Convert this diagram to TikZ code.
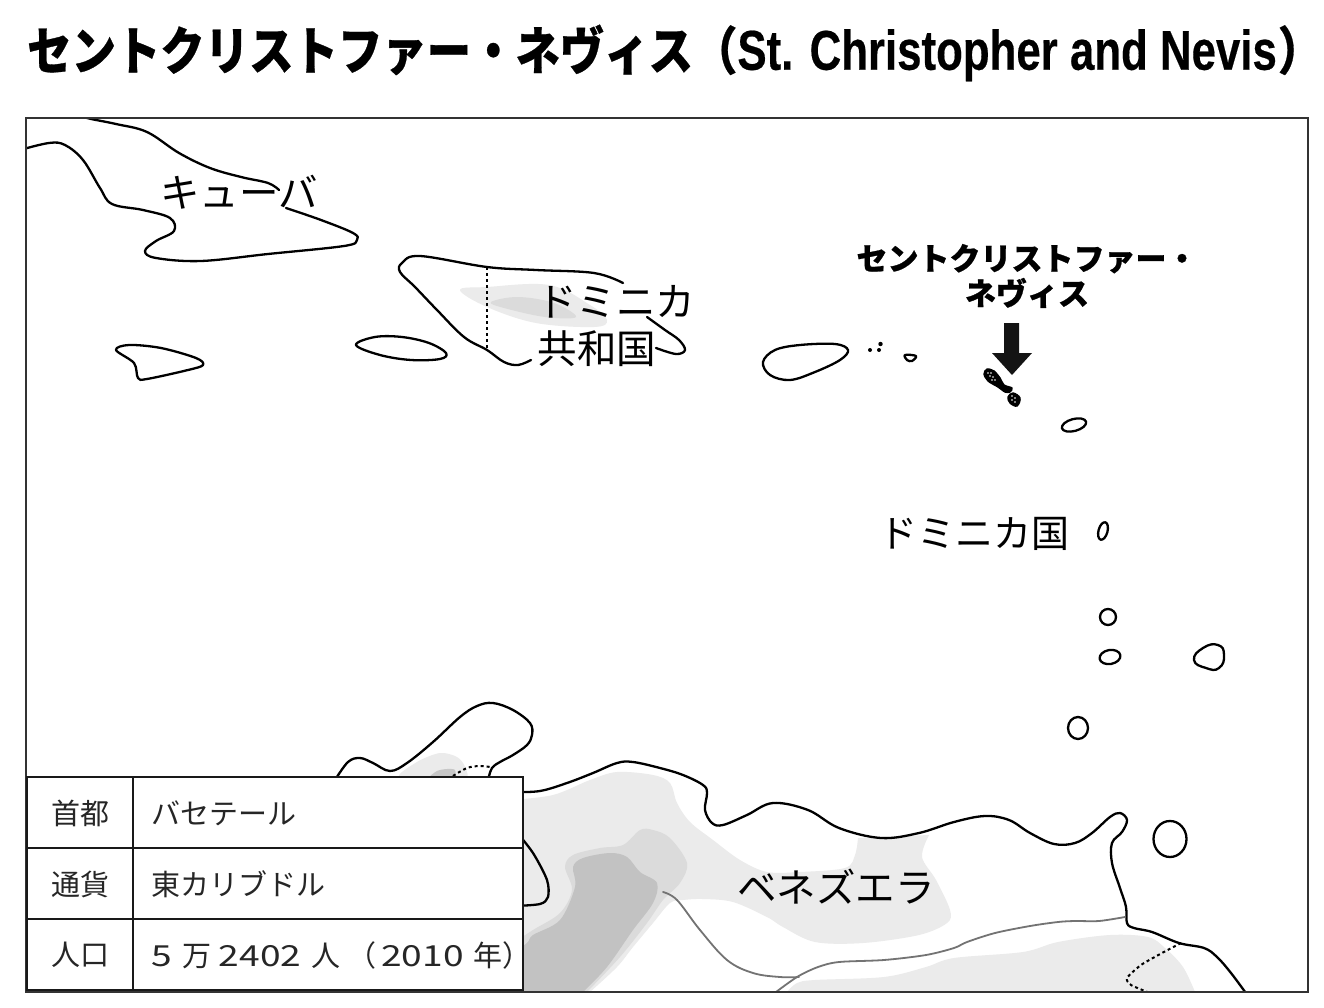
\documentclass[tikz,border=0pt]{standalone}
\usepackage{fontspec}
\setmainfont{Noto Sans CJK JP}
\newfontfamily\latinbold{Liberation Sans}
\definecolor{gA}{gray}{0.92}
\definecolor{gB}{gray}{0.86}
\definecolor{gC}{gray}{0.76}
\definecolor{gB2}{gray}{0.78}
\definecolor{inkline}{gray}{0.1}
\tikzset{
  coast/.style={line width=2.3pt,black,line join=round,line cap=round},
  border/.style={line width=1.8pt,gray!90!black,line cap=round},
  dots/.style={line width=2pt,black,dash pattern=on 3pt off 3pt},
  lab/.style={font=\fontsize{39.5}{42}\selectfont,inner sep=0pt,black},
  tcell/.style={font=\fontsize{29}{31}\selectfont,inner sep=0pt,text=black!85,anchor=west},
  tline/.style={line width=2.4pt,inkline},
}
\newcommand{\widedigits}[1]{\scalebox{1.28}[1]{#1}}
\begin{document}
\begin{tikzpicture}[x=1pt,y=-1pt]
\useasboundingbox (0,0) rectangle (1324,1008);
\fill[white] (0,0) rectangle (1324,1008);
% title
\node[inner sep=0pt,anchor=west] (title) at (27,53) {\scalebox{0.965}[1.12]{\fontsize{46}{50}\selectfont\bfseries\addfontfeature{FakeBold=0.6}セントクリストファー・ネヴィス（}\scalebox{0.782}[1]{\fontsize{56}{60}\selectfont\latinbold\bfseries\addfontfeature{FakeBold=0.4}St. Christopher and Nevis}\hspace{1pt}\scalebox{0.965}[1.12]{\fontsize{46}{50}\selectfont\bfseries\addfontfeature{FakeBold=0.6}）}\hspace{-24pt}};
\begin{scope}
\clip (26,118) rectangle (1308,992);
% shaded relief
\fill[gA] plot[smooth cycle,tension=.6] coordinates {(460,290)(487,287)(549,285)(590,305)(607,320)(594,327)(536,323)(487,307)};
\fill[gB] plot[smooth cycle,tension=.6] coordinates {(491,302)(518,297)(554,303)(576,317)(545,317)(504,308)};
\fill[gA] plot[smooth cycle,tension=.5] coordinates {(400,778)(417,762)(440,753)(457,757)(465,767)(463,780)};
\fill[gB2] plot[smooth cycle,tension=.5] coordinates {(430,778)(437,771)(447,769)(455,770)(453,778)};
\fill[gA] plot[smooth,tension=.55] coordinates {(510,800)(553,795)(590,780)(617,772)(653,775)(670,783)(677,803)(690,822)(713,840)(740,860)(767,872)(800,872)(845,868)(855,855)(858,838)} -- plot[smooth,tension=.55] coordinates {(929,835)(922,857)(936,880)(950,910)(947,923)(919,935)(863,943)(815,942)(783,927)(767,917)(733,902)(703,899)(683,900)(670,903)(653,923)(633,947)(617,967)(590,992)} -- (510,992) -- cycle;
\fill[gB] plot[smooth,tension=.55] coordinates {(510,945)(533,930)(560,913)(572,890)(565,867)(573,855)(600,848)(623,845)(640,830)(653,830)(670,838)(687,863)(680,883)(663,900)(647,923)(620,957)(587,992)} -- (510,992) -- cycle;
\fill[gC] plot[smooth,tension=.55] coordinates {(510,955)(527,943)(533,935)(560,920)(575,887)(573,867)(583,858)(610,853)(627,857)(640,872)(657,883)(653,903)(633,930)(607,967)(583,992)} -- (510,992) -- cycle;
\fill[gA] plot[smooth,tension=.55] coordinates {(787,992)(797,983)(815,980)(884,977)(926,967)(954,958)(1023,952)(1058,942)(1110,935)(1148,937)(1165,948)(1183,967)(1195,992)} -- cycle;
% Cuba
\draw[coast] plot[smooth,tension=.6] coordinates {(279,190)(268,183)(241,177)(210,168)(179,153)(147,132)(116,124)(87,118)(75,113)};
\draw[coast] plot[smooth,tension=.6] coordinates {(286,208)(321,220)(353,233)(357,240)(344,246)(268,254)(201,261)(156,258)(145,251)(156,241)(174,231)(170,218)(143,210)(112,204)(100,188)(83,160)(65,145)(49,143)(20,150)};
% Hispaniola
\draw[coast] plot[smooth,tension=.6] coordinates {(623,283)(594,273)(536,270)(487,267)(420,256)(402,263)(400,272)(415,287)(437,310)(464,337)(487,350)(504,362)(518,365)(531,360)};
\draw[coast] plot[smooth,tension=.6] coordinates {(647,317)(665,330)(679,340)(685,350)(676,354)(656,348)};
\draw[dots] (487,267) -- (487,350);
% Jamaica and other islands
\draw[coast] plot[smooth cycle,tension=.55] coordinates {(116,350)(129,345)(161,348)(196,358)(203,365)(188,370)(147,379)(138,378)(134,363)};
\draw[coast] plot[smooth cycle,tension=.6] coordinates {(356,345)(375,337)(402,337)(429,343)(446,353)(440,359)(411,360)(380,355)};
\draw[coast] plot[smooth cycle,tension=.6] coordinates {(763,362)(775,350)(800,345)(835,344)(848,350)(840,360)(815,372)(790,380)(770,375)};
\fill (870,350) circle (2) (879,350) circle (2) (880.5,344) circle (2.2);
\draw[coast] plot[smooth cycle,tension=.6] coordinates {(905,355)(916,356)(912,361)(907,360)};
\draw[coast] (1074,425) ellipse [x radius=12.5,y radius=6,rotate=15];
\draw[coast] (1103,531) ellipse [x radius=4.5,y radius=9,rotate=-15];
\draw[coast] (1108,617) ellipse [x radius=8,y radius=8];
\draw[coast] (1110,657) ellipse [x radius=10.5,y radius=7,rotate=10];
\draw[coast] plot[smooth cycle,tension=.9] coordinates {(1194,660)(1203,648)(1218,645)(1224,655)(1219,668)(1206,668)};
\draw[coast] (1078,728) ellipse [x radius=10,y radius=11];
\draw[coast] (1170,839) ellipse [x radius=16.5,y radius=18];
% Saint Kitts and Nevis
\fill[black,draw=black,line width=1.4pt,line join=round] plot[smooth cycle,tension=.5] coordinates {(984,374)(987,369)(994,371)(1000,378)(1004,385)(1012,388)(1010,392)(1005,392)(998,387)(988,381)};
\fill[black,draw=black,line width=1.4pt] plot[smooth cycle,tension=.6] coordinates {(1013,393)(1020,398)(1017,406)(1010,403)(1008,397)};
\fill[white] (988,373) circle (.8) (991,373) circle (.8) (990,376) circle (.8) (993,377) circle (.8) (995,380) circle (.8) (992,380) circle (.8) (1012,396) circle (.8) (1015,398) circle (.8) (1012,400) circle (.8) (1015,402) circle (.8);
% Colombia, Venezuela and Guyana coast
\draw[coast] plot[smooth,tension=.6] coordinates {(335,780)(348,762)(360,758)(373,763)(390,771)(407,763)(433,742)(460,717)(477,706)(493,703)(513,710)(530,723)(532,735)(527,745)(513,755)(500,762)(492,768)(488,780)};
\draw[coast] plot[smooth,tension=.6] coordinates {(515,792)(540,791)(567,783)(593,773)(617,763)(633,762)(660,768)(683,775)(703,785)(707,793)(705,810)(712,823)(723,825)(747,815)(773,803)(808,810)(839,828)(881,838)(919,833)(954,822)(985,816)(1009,820)(1030,833)(1054,844)(1075,843)(1092,833)(1110,817)(1120,813)(1127,820)(1122,832)(1112,843)(1112,863)(1120,888)(1126,907)(1127,923)(1134,928)(1152,932)(1179,943)(1204,948)(1217,957)(1231,973)(1248,996)};
\draw[coast] plot[smooth,tension=.5] coordinates {(515,830)(533,853)(547,880)(548,897)(540,904)(515,906)};
\draw[line width=2.6pt,black] (26,991.5) -- (439,991);
\draw[dots] plot[smooth,tension=.6] coordinates {(453,776)(467,768)(480,766)(490,767)};
\draw[dots] plot[smooth,tension=.4] coordinates {(1181,943)(1162,953)(1141,965)(1127,978)(1131,985)(1150,993)};
\draw[border] plot[smooth,tension=.6] coordinates {(663,892)(677,900)(700,930)(727,960)(753,973)(780,977)(799,977)};
\draw[border] plot[smooth,tension=.5] coordinates {(772,995)(797,977)(818,967)(839,962)(884,960)(926,955)(954,948)(967,942)(995,933)(1030,926)(1058,922)(1075,921)(1099,921)(1125,917)};
\end{scope}
% frame
\draw[line width=1.1pt,black!80] (26,118) rectangle (1308,992);
% arrow
\fill[black!92] (1004,323) -- (1019,323) -- (1019,353) -- (1032,353) -- (1012,375) -- (992,353) -- (1004,353) -- cycle;
% labels
\node[lab] (cuba) at (239,192) {キューバ};
\node[lab] (dr1) at (616,302) {ドミニカ};
\node[lab] (dr2) at (597,349) {共和国};
\node[lab,font=\fontsize{38}{42}\selectfont] (dm) at (974,534) {ドミニカ国};
\node[lab] (ve) at (836,887) {ベネズエラ};
\node[inner sep=0pt,font=\fontsize{31}{35}\selectfont\bfseries\addfontfeature{FakeBold=0.8},align=center] (skn) at (1027,276) {セントクリストファー・\\ネヴィス};
% table
\draw[tline,fill=white] (27,777) rectangle (523,990);
\draw[tline] (133,777) -- (133,990);
\draw[tline] (27,848) -- (523,848);
\draw[tline] (27,919) -- (523,919);
\node[tcell] (c1) at (51,813) {首都};
\node[tcell] (c2) at (51,884) {通貨};
\node[tcell] (c3) at (51,955) {人口};
\node[tcell] (v1) at (151,813) {バセテール};
\node[tcell] (v2) at (151,884) {東カリブドル};
\node[tcell] (v3) at (151,955) {\widedigits{5}\hspace{11pt}万\hspace{7pt}\widedigits{2402}\hspace{10pt}人\hspace{7pt}（\hspace{5pt}\widedigits{2010}\hspace{10pt}年）};
\end{tikzpicture}
\end{document}
